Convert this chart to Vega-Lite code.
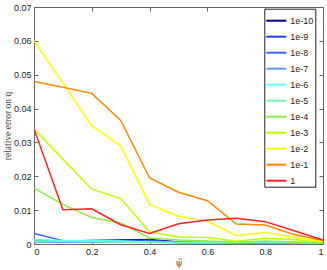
{
  "$schema": "https://vega.github.io/schema/vega-lite/v6.json",
  "width": 289,
  "height": 237,
  "autosize": "none",
  "padding": {"left": 34, "top": 7, "right": 4, "bottom": 26},
  "config": {
    "view": {"stroke": null},
    "font": "Liberation Sans",
    "axis": {
      "domainColor": "#666666",
      "tickColor": "#666666",
      "labelColor": "#222222",
      "labelFont": "Liberation Sans",
      "labelFontSize": 9,
      "grid": false,
      "tickSize": -4,
      "titleFont": "DejaVu Serif",
      "titleFontWeight": "normal",
      "titleColor": "#444444"
    }
  },
  "datasets": {
    "d": [
      {"s": "1e-10", "x": 0, "y": 0.0010}, {"s": "1e-10", "x": 0.1, "y": 0.0008}, {"s": "1e-10", "x": 0.2, "y": 0.0010}, {"s": "1e-10", "x": 0.3, "y": 0.0012}, {"s": "1e-10", "x": 0.4, "y": 0.0013}, {"s": "1e-10", "x": 0.5, "y": 0.0006}, {"s": "1e-10", "x": 0.6, "y": 0.0004}, {"s": "1e-10", "x": 0.7, "y": 0.0003}, {"s": "1e-10", "x": 0.8, "y": 0.0003}, {"s": "1e-10", "x": 0.9, "y": 0.0002}, {"s": "1e-10", "x": 1, "y": 0.0001},
      {"s": "1e-9", "x": 0, "y": 0.0012}, {"s": "1e-9", "x": 0.1, "y": 0.0007}, {"s": "1e-9", "x": 0.2, "y": 0.0008}, {"s": "1e-9", "x": 0.3, "y": 0.0010}, {"s": "1e-9", "x": 0.4, "y": 0.0011}, {"s": "1e-9", "x": 0.5, "y": 0.0005}, {"s": "1e-9", "x": 0.6, "y": 0.0004}, {"s": "1e-9", "x": 0.7, "y": 0.0004}, {"s": "1e-9", "x": 0.8, "y": 0.0003}, {"s": "1e-9", "x": 0.9, "y": 0.0002}, {"s": "1e-9", "x": 1, "y": 0.0001},
      {"s": "1e-8", "x": 0, "y": 0.0031}, {"s": "1e-8", "x": 0.1, "y": 0.0010}, {"s": "1e-8", "x": 0.2, "y": 0.0005}, {"s": "1e-8", "x": 0.3, "y": 0.0007}, {"s": "1e-8", "x": 0.4, "y": 0.0010}, {"s": "1e-8", "x": 0.5, "y": 0.0004}, {"s": "1e-8", "x": 0.6, "y": 0.0003}, {"s": "1e-8", "x": 0.7, "y": 0.0003}, {"s": "1e-8", "x": 0.8, "y": 0.0002}, {"s": "1e-8", "x": 0.9, "y": 0.0002}, {"s": "1e-8", "x": 1, "y": 0.0001},
      {"s": "1e-7", "x": 0, "y": 0.0006}, {"s": "1e-7", "x": 0.1, "y": 0.0005}, {"s": "1e-7", "x": 0.2, "y": 0.0006}, {"s": "1e-7", "x": 0.3, "y": 0.0008}, {"s": "1e-7", "x": 0.4, "y": 0.0006}, {"s": "1e-7", "x": 0.5, "y": 0.0004}, {"s": "1e-7", "x": 0.6, "y": 0.0003}, {"s": "1e-7", "x": 0.7, "y": 0.0003}, {"s": "1e-7", "x": 0.8, "y": 0.0003}, {"s": "1e-7", "x": 0.9, "y": 0.0002}, {"s": "1e-7", "x": 1, "y": 0.0001},
      {"s": "1e-6", "x": 0, "y": 0.0013}, {"s": "1e-6", "x": 0.1, "y": 0.0010}, {"s": "1e-6", "x": 0.2, "y": 0.0010}, {"s": "1e-6", "x": 0.3, "y": 0.0009}, {"s": "1e-6", "x": 0.4, "y": 0.0005}, {"s": "1e-6", "x": 0.5, "y": 0.0004}, {"s": "1e-6", "x": 0.6, "y": 0.0003}, {"s": "1e-6", "x": 0.7, "y": 0.0004}, {"s": "1e-6", "x": 0.8, "y": 0.0005}, {"s": "1e-6", "x": 0.9, "y": 0.0004}, {"s": "1e-6", "x": 1, "y": 0.0002},
      {"s": "1e-5", "x": 0, "y": 0.0009}, {"s": "1e-5", "x": 0.1, "y": 0.0008}, {"s": "1e-5", "x": 0.2, "y": 0.0007}, {"s": "1e-5", "x": 0.3, "y": 0.0006}, {"s": "1e-5", "x": 0.4, "y": 0.0005}, {"s": "1e-5", "x": 0.5, "y": 0.0005}, {"s": "1e-5", "x": 0.6, "y": 0.0006}, {"s": "1e-5", "x": 0.7, "y": 0.0005}, {"s": "1e-5", "x": 0.8, "y": 0.0008}, {"s": "1e-5", "x": 0.9, "y": 0.0006}, {"s": "1e-5", "x": 1, "y": 0.0003},
      {"s": "1e-4", "x": 0, "y": 0.0165}, {"s": "1e-4", "x": 0.1, "y": 0.0117}, {"s": "1e-4", "x": 0.2, "y": 0.0078}, {"s": "1e-4", "x": 0.3, "y": 0.0062}, {"s": "1e-4", "x": 0.4, "y": 0.0018}, {"s": "1e-4", "x": 0.5, "y": 0.0012}, {"s": "1e-4", "x": 0.6, "y": 0.0009}, {"s": "1e-4", "x": 0.7, "y": 0.0006}, {"s": "1e-4", "x": 0.8, "y": 0.0008}, {"s": "1e-4", "x": 0.9, "y": 0.0006}, {"s": "1e-4", "x": 1, "y": 0.0003},
      {"s": "1e-3", "x": 0, "y": 0.0340}, {"s": "1e-3", "x": 0.1, "y": 0.0250}, {"s": "1e-3", "x": 0.2, "y": 0.0162}, {"s": "1e-3", "x": 0.3, "y": 0.0134}, {"s": "1e-3", "x": 0.4, "y": 0.0036}, {"s": "1e-3", "x": 0.5, "y": 0.0021}, {"s": "1e-3", "x": 0.6, "y": 0.0019}, {"s": "1e-3", "x": 0.7, "y": 0.0008}, {"s": "1e-3", "x": 0.8, "y": 0.0017}, {"s": "1e-3", "x": 0.9, "y": 0.0013}, {"s": "1e-3", "x": 1, "y": 0.0005},
      {"s": "1e-2", "x": 0, "y": 0.0600}, {"s": "1e-2", "x": 0.1, "y": 0.0475}, {"s": "1e-2", "x": 0.2, "y": 0.0349}, {"s": "1e-2", "x": 0.3, "y": 0.0290}, {"s": "1e-2", "x": 0.4, "y": 0.0117}, {"s": "1e-2", "x": 0.5, "y": 0.0082}, {"s": "1e-2", "x": 0.6, "y": 0.0067}, {"s": "1e-2", "x": 0.7, "y": 0.0025}, {"s": "1e-2", "x": 0.8, "y": 0.0034}, {"s": "1e-2", "x": 0.9, "y": 0.0020}, {"s": "1e-2", "x": 1, "y": 0.0007},
      {"s": "1e-1", "x": 0, "y": 0.0480}, {"s": "1e-1", "x": 0.1, "y": 0.0463}, {"s": "1e-1", "x": 0.2, "y": 0.0445}, {"s": "1e-1", "x": 0.3, "y": 0.0365}, {"s": "1e-1", "x": 0.4, "y": 0.0195}, {"s": "1e-1", "x": 0.5, "y": 0.0153}, {"s": "1e-1", "x": 0.6, "y": 0.0128}, {"s": "1e-1", "x": 0.7, "y": 0.0059}, {"s": "1e-1", "x": 0.8, "y": 0.0056}, {"s": "1e-1", "x": 0.9, "y": 0.0028}, {"s": "1e-1", "x": 1, "y": 0.0010},
      {"s": "1", "x": 0, "y": 0.0340}, {"s": "1", "x": 0.1, "y": 0.0101}, {"s": "1", "x": 0.2, "y": 0.0104}, {"s": "1", "x": 0.3, "y": 0.0057}, {"s": "1", "x": 0.4, "y": 0.0031}, {"s": "1", "x": 0.5, "y": 0.0060}, {"s": "1", "x": 0.6, "y": 0.0071}, {"s": "1", "x": 0.7, "y": 0.0076}, {"s": "1", "x": 0.8, "y": 0.0066}, {"s": "1", "x": 0.9, "y": 0.0039}, {"s": "1", "x": 1, "y": 0.0012}
    ]
  },
  "data": {"name": "d"},
  "layer": [
    {
      "mark": {"type": "line", "strokeWidth": 1.5, "clip": true},
      "encoding": {
        "x": {"field": "x", "type": "quantitative", "scale": {"domain": [0, 1], "nice": false},
          "axis": {"values": [0, 0.2, 0.4, 0.6, 0.8, 1], "format": "~g", "title": "ψ̃", "titleFontSize": 9, "titlePadding": 2, "labelPadding": 7}},
        "y": {"field": "y", "type": "quantitative", "scale": {"domain": [0, 0.07], "nice": false},
          "axis": {"values": [0, 0.01, 0.02, 0.03, 0.04, 0.05, 0.06, 0.07], "format": "~g", "title": "relative error on q", "titleFont": "Liberation Serif", "titleFontSize": 9.5, "titlePadding": 1, "labelPadding": 7}},
        "color": {"field": "s", "type": "nominal",
          "scale": {"domain": ["1e-10", "1e-9", "1e-8", "1e-7", "1e-6", "1e-5", "1e-4", "1e-3", "1e-2", "1e-1", "1"],
            "range": ["#00008f", "#1f40f0", "#3366ff", "#5a9cff", "#66ffff", "#66ffb0", "#88ee44", "#bbff00", "#ffff00", "#ff8800", "#ff2020"]},
          "legend": {"title": null, "orient": "none", "legendX": 230.3, "legendY": 1.7, "symbolType": "stroke", "symbolSize": 400, "symbolStrokeWidth": 2,
            "labelFontSize": 9, "labelFont": "Liberation Sans", "labelColor": "#222222", "labelOffset": 3, "padding": 1, "rowPadding": -3.4,
            "strokeColor": "#222222", "fillColor": "#ffffff", "cornerRadius": 0}},
        "detail": {"field": "s"},
        "order": {"field": "x"}
      }
    },
    {
      "mark": {"type": "line", "opacity": 0},
      "encoding": {
        "x": {"field": "x", "type": "quantitative", "axis": {"orient": "top", "values": [0, 0.2, 0.4, 0.6, 0.8, 1], "labels": false, "title": null}},
        "y": {"field": "y", "type": "quantitative", "axis": {"orient": "right", "values": [0, 0.01, 0.02, 0.03, 0.04, 0.05, 0.06, 0.07], "labels": false, "title": null}}
      }
    }
  ],
  "resolve": {"axis": {"x": "independent", "y": "independent"}}
}
